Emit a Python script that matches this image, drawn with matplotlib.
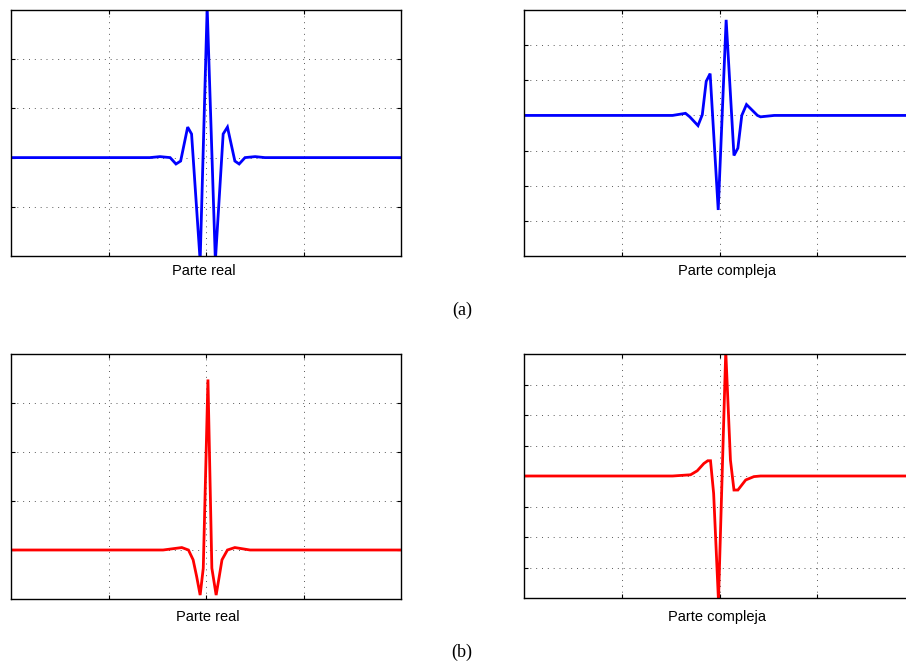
import matplotlib.pyplot as plt

# waveform vertices (x in samples around the centre, y in grid units)
real_a_x = [-50, -14.4, -11.8, -9.2, -7.7, -6.5, -4.7, -3.7, -1.5, 0.3, 2.4, 4.4, 5.5, 7.4, 8.5, 10.0, 12.6, 15.1, 50]
real_a_y = [0, 0, 0.02, 0.0, -0.13, -0.07, 0.62, 0.48, -2.1, 3.05, -2.1, 0.48, 0.62, -0.07, -0.13, 0, 0.02, 0, 0]

imag_a_x = [-50, -12.0, -8.7, -7.6, -5.5, -4.4, -3.4, -2.4, -0.33, 1.7, 3.7, 4.7, 5.7, 6.9, 7.9, 9.7, 10.5, 14.0, 50]
imag_a_y = [0, 0, 0.06, -0.04, -0.29, 0.02, 0.97, 1.19, -2.69, 2.72, -1.14, -0.93, 0, 0.31, 0.2, 0, -0.04, 0, 0]

real_b_x = [-50, -11.0, -6.2, -4.5, -3.3, -2.4, -1.5, -0.7, 0.5, 1.5, 2.6, 3.4, 4.1, 5.5, 7.4, 11.3, 50]
real_b_y = [0, 0, 0.05, 0, -0.2, -0.54, -0.92, -0.37, 3.48, -0.37, -0.92, -0.54, -0.2, 0, 0.05, 0, 0]

imag_b_x = [-50, -12.0, -7.4, -5.7, -4.0, -3.0, -2.3, -1.5, -0.26, 1.6, 2.8, 3.7, 4.7, 6.7, 8.8, 10.5, 50]
imag_b_y = [0, 0, 0.04, 0.17, 0.41, 0.5, 0.5, -0.57, -4.1, 4.1, 0.52, -0.46, -0.46, -0.13, -0.02, 0, 0]

xticks = [-25, 0, 25]

fig = plt.figure(figsize=(9.06, 6.67), dpi=100)

W, H = 906, 667


def box(left, top, width, height):
    return [left / W, (H - top - height) / H, width / W, height / H]


def panel(rect, x, y, color, ylim):
    ax = fig.add_axes(rect)
    ax.plot(x, y, color=color, lw=2.0, solid_joinstyle='miter')
    ax.set_xlim(-50, 50)
    ax.set_ylim(*ylim)
    ax.set_xticks(xticks)
    ax.set_yticks(range(ylim[0] + 1, ylim[1]))
    ax.set_xticklabels([])
    ax.set_yticklabels([])
    ax.tick_params(direction='in', length=3, width=0.8, top=True, right=True)
    ax.grid(True, color='0.35', linestyle=(0, (1, 5)), linewidth=0.7)
    for s in ax.spines.values():
        s.set_linewidth(1.0)
    return ax


panel(box(11, 10, 390, 246), real_a_x, real_a_y, '#0000ff', (-2, 3))
panel(box(524, 10, 391, 246), imag_a_x, imag_a_y, '#0000ff', (-4, 3))
panel(box(11, 354, 390, 245), real_b_x, real_b_y, '#ff0000', (-1, 4))
panel(box(524, 354, 391, 244), imag_b_x, imag_b_y, '#ff0000', (-4, 4))

sans = dict(family='Liberation Sans', fontsize=10.5, ha='center', va='center')
fig.text(204 / W, 1 - 271 / H, 'Parte real', **sans)
fig.text(727 / W, 1 - 271 / H, 'Parte compleja', **sans)
fig.text(208 / W, 1 - 617 / H, 'Parte real', **sans)
fig.text(717 / W, 1 - 617 / H, 'Parte compleja', **sans)

serif = dict(family='Liberation Serif', fontsize=13, ha='center', va='center')
fig.text(462 / W, 1 - 310 / H, '(a)', **serif)
fig.text(462 / W, 1 - 652 / H, '(b)', **serif)

fig.savefig('out.png', dpi=100)
